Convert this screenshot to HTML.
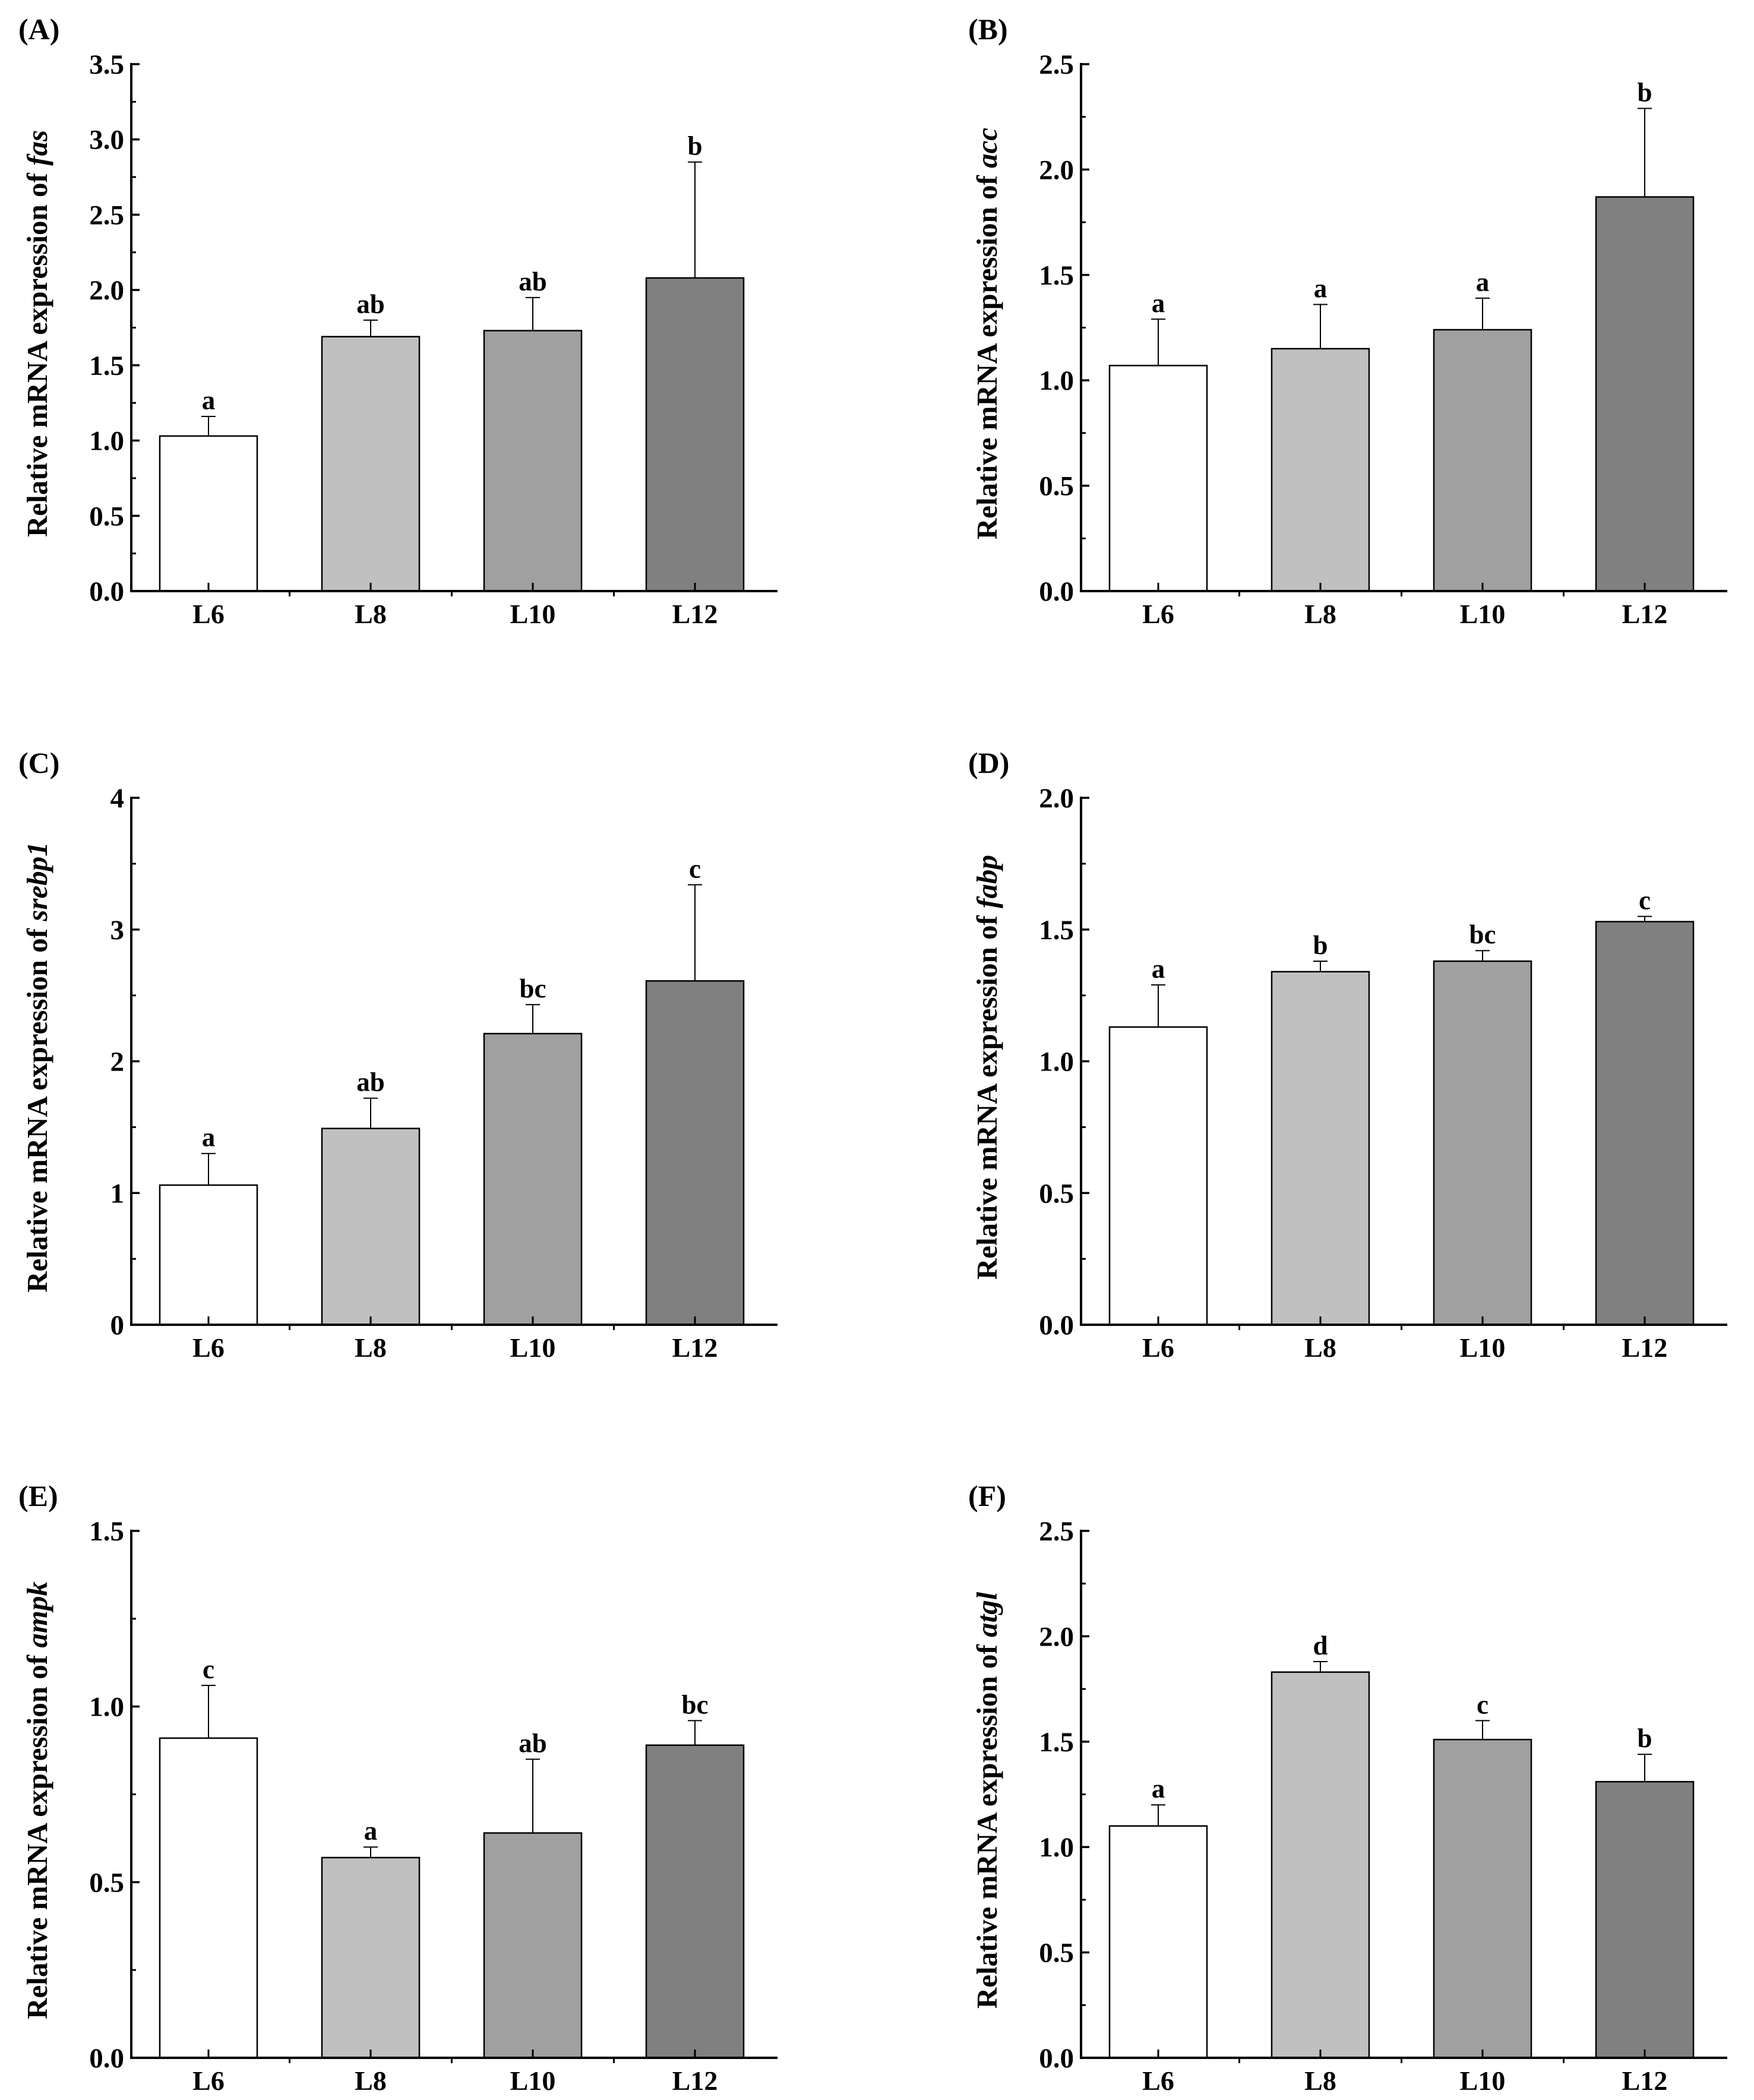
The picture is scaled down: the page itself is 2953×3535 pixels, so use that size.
<!DOCTYPE html>
<html><head><meta charset="utf-8">
<style>
html,body{margin:0;padding:0;background:#fff;}
svg{display:block;}
text{font-family:"Liberation Serif",serif;font-weight:bold;fill:#000;}
</style></head>
<body>
<svg id="fig" width="2953" height="3535" viewBox="0 0 2953 3535" xmlns="http://www.w3.org/2000/svg"></svg>
<script>
const categories = ["L6","L8","L10","L12"];
const fills = ["#ffffff","#c0c0c0","#a0a0a0","#808080"];
const panelLabels = ["(A)","(B)","(C)","(D)","(E)","(F)"];
const genes = ["fas","acc","srebp1","fabp","ampk","atgl"];
const valuesA = [1.03,1.69,1.73,2.08];  const errA = [0.13,0.11,0.22,0.77]; const letA = ["a","ab","ab","b"];
const valuesB = [1.07,1.15,1.24,1.87];  const errB = [0.22,0.21,0.15,0.42]; const letB = ["a","a","a","b"];
const valuesC = [1.06,1.49,2.21,2.61];  const errC = [0.24,0.23,0.22,0.73]; const letC = ["a","ab","bc","c"];
const valuesD = [1.13,1.34,1.38,1.53];  const errD = [0.16,0.04,0.04,0.02]; const letD = ["a","b","bc","c"];
const valuesE = [0.91,0.57,0.64,0.89];  const errE = [0.15,0.03,0.21,0.07]; const letE = ["c","a","ab","bc"];
const valuesF = [1.10,1.83,1.51,1.31];  const errF = [0.10,0.05,0.09,0.13]; const letF = ["a","d","c","b"];
const yMaxs = [3.5,2.5,4,2.0,1.5,2.5];
const yTicksA = ["0.0","0.5","1.0","1.5","2.0","2.5","3.0","3.5"];
const yTicksB = ["0.0","0.5","1.0","1.5","2.0","2.5"];
const yTicksC = ["0","1","2","3","4"];
const yTicksD = ["0.0","0.5","1.0","1.5","2.0"];
const yTicksE = ["0.0","0.5","1.0","1.5"];
const yTicksF = ["0.0","0.5","1.0","1.5","2.0","2.5"];

const allVals=[valuesA,valuesB,valuesC,valuesD,valuesE,valuesF];
const allErr=[errA,errB,errC,errD,errE,errF];
const allLet=[letA,letB,letC,letD,letE,letF];
const allTicks=[yTicksA,yTicksB,yTicksC,yTicksD,yTicksE,yTicksF];

const NS="http://www.w3.org/2000/svg";
const svg=document.getElementById('fig');
function mk(tag,attrs,parent){const e=document.createElementNS(NS,tag);for(const k in attrs)e.setAttribute(k,attrs[k]);parent.appendChild(e);return e;}

const colX=[221,1820];
const rowTop=[108,1343,2577];
const rowZero=[995,2230,3464];
const W=1088;

for(let p=0;p<6;p++){
  const col=p%2,row=Math.floor(p/2);
  const x0=colX[col],yT=rowTop[row],yZ=rowZero[row],x1=x0+W;
  const ymax=yMaxs[p];
  const ys=v=>yZ-(v/ymax)*(yZ-yT);
  const step=273;
  const xs=i=>x0+130+step*i;
  const g=mk('g',{},svg);
  
  
  const pl=mk('text',{x:x0-190,y:yT-42,'font-size':50},g);
  pl.textContent=panelLabels[p];
  
  
  const vals=allVals[p],errs=allErr[p],lets=allLet[p];
  for(let i=0;i<4;i++){
    const cx=xs(i),bw=164;
    const top=ys(vals[i]),et=ys(vals[i]+errs[i]);
    const eb=mk('line',{x1:cx,x2:cx,y1:top,y2:et,stroke:'#000','stroke-width':2},g);
    
    
    const cap=mk('line',{x1:cx-12,x2:cx+12,y1:et,y2:et,stroke:'#000','stroke-width':2},g);
    
    
    const r=mk('rect',{x:cx-bw/2,y:top,width:bw,height:yZ-top,fill:fills[i],stroke:'#000','stroke-width':2.5},g);
    
    
    const lt=mk('text',{x:cx,y:et-12,'font-size':45,'text-anchor':'middle'},g);
    lt.textContent=lets[i];
    
    
    const xl=mk('text',{x:cx,y:yZ+54,'font-size':46,'text-anchor':'middle'},g);
    xl.textContent=categories[i];
    
    
    const xt=mk('line',{x1:cx,x2:cx,y1:yZ,y2:yZ-14,stroke:'#000','stroke-width':3},g);
    
    
    if(i<3){const mx=cx+step/2;const mt=mk('line',{x1:mx,x2:mx,y1:yZ,y2:yZ+9,stroke:'#000','stroke-width':3},g);
      
      }
  }
  const ticks=allTicks[p];
  for(let k=0;k<ticks.length;k++){
    const v=parseFloat(ticks[k]);const y=ys(v);
    const t=mk('line',{x1:x0,x2:x0+14,y1:y,y2:y,stroke:'#000','stroke-width':3.5},g);
    
    
    const tl=mk('text',{x:x0-12,y:y+16,'font-size':47,'text-anchor':'end'},g);
    tl.textContent=ticks[k];
    
    
    if(k<ticks.length-1){const st=parseFloat(ticks[1])-parseFloat(ticks[0]);const ym=ys(v+st/2);
      const m=mk('line',{x1:x0,x2:x0+8,y1:ym,y2:ym,stroke:'#000','stroke-width':3},g);
      
      }
  }
  const ax=mk('path',{d:`M${x0} ${yT-2} L${x0} ${yZ} L${x1} ${yZ}`,fill:'none',stroke:'#000','stroke-width':4},g);
  
  
  const ty=(yT+yZ)/2+10, tx=x0-142;
  const tt=mk('text',{x:tx,y:ty,'font-size':49,'text-anchor':'middle',transform:`rotate(-90 ${tx} ${ty})`},g);
  
  
  tt.appendChild(document.createTextNode('Relative mRNA expression of '));
  const it=mk('tspan',{'font-style':'italic'},tt);it.textContent=genes[p];
}
</script>
</body></html>
